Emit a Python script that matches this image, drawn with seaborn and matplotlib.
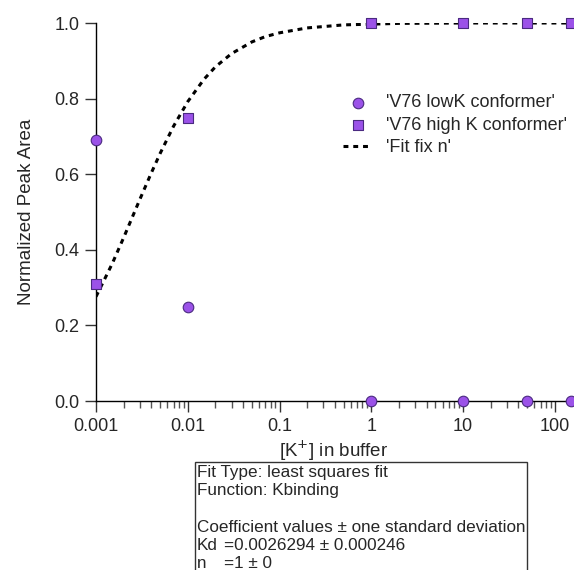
import matplotlib
matplotlib.use("Agg")
import matplotlib.pyplot as plt
import seaborn as sns
import pandas as pd
import numpy as np
from matplotlib.patches import Rectangle
from matplotlib.ticker import LogLocator, NullFormatter, FixedLocator, FixedFormatter

sns.set_theme(style="ticks")
plt.rcParams['font.family'] = ['Liberation Sans', 'DejaVu Sans']

# data
k_conc = [0.001, 0.01, 1, 10, 50, 150]
lowK = [0.69, 0.25, 0.0, 0.0, 0.0, 0.0]
highK = [0.31, 0.75, 1.0, 1.0, 1.0, 1.0]
fit_x = [0.001, 0.0015, 0.002, 0.003, 0.004, 0.005, 0.007, 0.01, 0.015, 0.02,
         0.03, 0.05, 0.07, 0.1, 0.2, 0.5, 1, 2, 5, 10, 50, 150]
fit_y = [0.276, 0.363, 0.432, 0.533, 0.603, 0.655, 0.727, 0.792, 0.851, 0.884,
         0.919, 0.950, 0.964, 0.974, 0.987, 0.995, 0.997, 0.999, 0.9995, 1.0, 1.0, 1.0]
box_lines = ["Fit Type: least squares fit", "Function: Kbinding", "",
             "Coefficient values \u00b1 one standard deviation",
             "Kd\t=0.0026294 \u00b1 0.000246", "n\t=1 \u00b1 0"]
x_ticks = [0.001, 0.01, 0.1, 1, 10, 100]
x_ticklabels = ["0.001", "0.01", "0.1", "1", "10", "100"]

purple = "#9b52e8"
edge = "#4a2a80"

fig = plt.figure(figsize=(5.74, 5.70), dpi=100)
ax = fig.add_axes([96/574, (570-401)/570, (571-96)/574, (401-23)/570])

df_fit = pd.DataFrame({"x": fit_x, "y": fit_y})
sns.lineplot(data=df_fit, x="x", y="y", ax=ax, color="black", lw=2.2,
             linestyle=(0, (1.6, 1.6)), label="'Fit fix n'", zorder=2)
df = pd.DataFrame({"x": k_conc, "low": lowK, "high": highK})
sns.scatterplot(data=df, x="x", y="low", ax=ax, marker="o", s=58, color=purple,
                edgecolor=edge, linewidth=0.8, label="'V76 lowK conformer'", clip_on=False, zorder=3)
sns.scatterplot(data=df, x="x", y="high", ax=ax, marker="s", s=52, color=purple,
                edgecolor=edge, linewidth=0.8, label="'V76 high K conformer'", clip_on=False, zorder=3)

ax.set_xscale("log")
ax.set_xlim(0.001, 150)
ax.set_ylim(0, 1.0)
ax.xaxis.set_major_locator(FixedLocator(x_ticks))
ax.xaxis.set_major_formatter(FixedFormatter(x_ticklabels))
ax.xaxis.set_minor_locator(LogLocator(base=10, subs=np.arange(2, 10), numticks=20))
ax.xaxis.set_minor_formatter(NullFormatter())
ax.set_yticks([0.0, 0.2, 0.4, 0.6, 0.8, 1.0])
ax.set_yticklabels(["0.0", "0.2", "0.4", "0.6", "0.8", "1.0"])
ax.tick_params(axis="both", which="major", length=8, width=1, labelsize=13, color="#333333", pad=4)
ax.tick_params(axis="x", which="minor", length=5, width=1, color="#555555")
for s in ["top", "right"]:
    ax.spines[s].set_visible(False)
for s in ["left", "bottom"]:
    ax.spines[s].set_linewidth(1.0)
    ax.spines[s].set_color("black")
ax.set_xlabel("[K$^{+}$] in buffer", fontsize=13.5, labelpad=3)
ax.set_ylabel("Normalized Peak Area", fontsize=13.5, labelpad=14)

h, l = ax.get_legend_handles_labels()
order = [1, 2, 0]
ax.legend([h[i] for i in order], [l[i] for i in order], frameon=False, fontsize=13,
          loc="upper left", bbox_to_anchor=(0.505, 0.83), handlelength=1.6,
          handletextpad=0.8, labelspacing=0.3, borderaxespad=0)

fig.patches.append(Rectangle((195/574, -0.05), (527-195)/574, (570-462)/570 + 0.05,
                             transform=fig.transFigure, fill=False, edgecolor="#333333", lw=1))
for i, t in enumerate(box_lines):
    y = 1 - (473 + 18*i)/570
    if "\t" in t:
        a, b = t.split("\t")
        fig.text(197/574, y, a, fontsize=12.3, va="center", ha="left")
        fig.text(224/574, y, b, fontsize=12.3, va="center", ha="left")
    elif t:
        fig.text(197/574, y, t, fontsize=12.3, va="center", ha="left")

fig.savefig("out.png", dpi=100)
